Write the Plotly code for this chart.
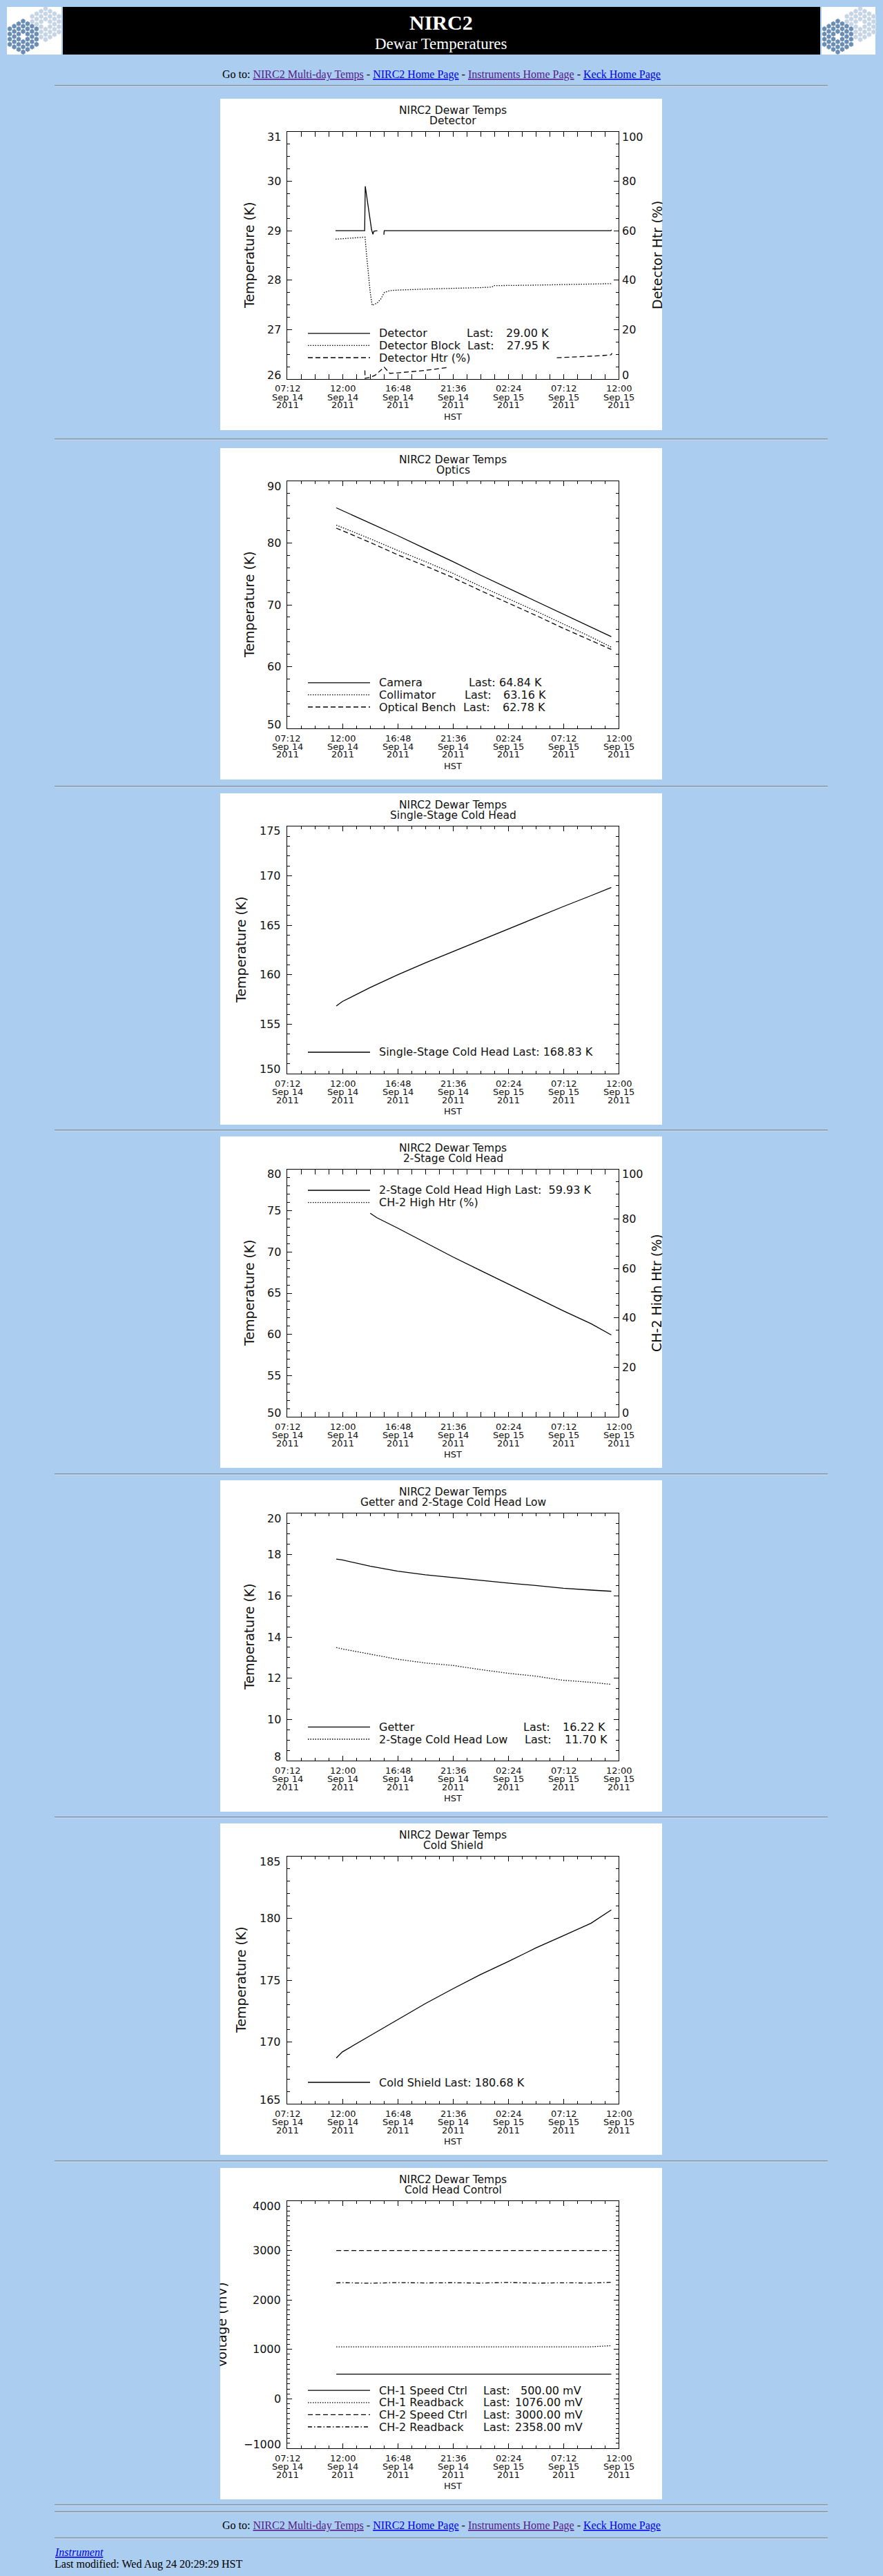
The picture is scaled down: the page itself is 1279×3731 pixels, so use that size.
import plotly.graph_objects as go

W, H = 1279, 3731
PAGE_BG = "#abcdef"
IDL = "DejaVu Sans"
SERIF = "Liberation Serif"
INK = "#111111"

# ---------------- data ----------------
x_ticks = ["2011-09-14 07:12", "2011-09-14 12:00", "2011-09-14 16:48", "2011-09-14 21:36",
           "2011-09-15 02:24", "2011-09-15 07:12", "2011-09-15 12:00"]
x_tick_clock = ["07:12", "12:00", "16:48", "21:36", "02:24", "07:12", "12:00"]
x_tick_day = ["Sep 14", "Sep 14", "Sep 14", "Sep 14", "Sep 15", "Sep 15", "Sep 15"]
x_tick_year = ["2011", "2011", "2011", "2011", "2011", "2011", "2011"]

grid_times = ["2011-09-14 11:28", "2011-09-14 12:00", "2011-09-14 14:24", "2011-09-14 16:48",
              "2011-09-14 19:12", "2011-09-14 21:36", "2011-09-15 00:00", "2011-09-15 02:24",
              "2011-09-15 04:48", "2011-09-15 07:12", "2011-09-15 09:36", "2011-09-15 11:22"]

# Detector panel
detector_times = ["2011-09-14 11:24", "2011-09-14 13:56", "2011-09-14 13:59", "2011-09-14 14:10",
                  "2011-09-14 14:21", "2011-09-14 14:32", "2011-09-14 14:39", "2011-09-14 14:44",
                  "2011-09-14 15:02", "2011-09-14 15:20", "2011-09-14 15:36", "2011-09-14 15:38",
                  "2011-09-15 11:20", "2011-09-15 11:23"]
detector_vals = [29.00, 29.00, 29.90, 29.62, 29.32, 29.02, 28.93, 28.99, 29.00, None, 28.92, 29.00,
                 29.00, 29.02]
block_times = ["2011-09-14 11:24", "2011-09-14 13:58", "2011-09-14 14:05", "2011-09-14 14:14",
               "2011-09-14 14:25", "2011-09-14 14:35", "2011-09-14 15:02", "2011-09-14 15:20",
               "2011-09-14 15:38", "2011-09-14 16:08", "2011-09-14 16:48", "2011-09-14 19:12",
               "2011-09-14 21:36", "2011-09-15 00:00", "2011-09-15 01:00", "2011-09-15 01:10",
               "2011-09-15 04:48", "2011-09-15 07:12", "2011-09-15 09:36", "2011-09-15 11:20",
               "2011-09-15 11:23"]
block_vals = [28.83, 28.87, 28.55, 28.17, 27.75, 27.49, 27.54, 27.62, 27.75, 27.79, 27.80, 27.82,
              27.83, 27.85, 27.86, 27.89, 27.90, 27.91, 27.92, 27.93, 27.95]
det_htr_times = ["2011-09-14 13:57", "2011-09-14 13:58", "2011-09-14 14:20", "2011-09-14 14:50",
                 "2011-09-14 15:38", "2011-09-14 16:07", "2011-09-14 16:48", "2011-09-14 18:00",
                 "2011-09-14 19:12", "2011-09-14 20:30", "2011-09-14 21:17", "2011-09-15 02:00",
                 "2011-09-15 06:38", "2011-09-15 08:00", "2011-09-15 09:36", "2011-09-15 10:38",
                 "2011-09-15 11:20", "2011-09-15 11:26"]
det_htr_vals = [3.5, 0.3, 0.6, 1.5, 4.8, 2.3, 2.5, 3.0, 3.5, 4.3, 4.8, None,
                8.6, 8.9, 9.2, 9.5, 9.8, 10.4]

# Optics panel
camera = [85.70, 85.25, 83.30, 81.20, 79.10, 77.00, 74.80, 72.70, 70.60, 68.50, 66.40, 64.84]
collimator = [82.90, 82.50, 80.70, 78.80, 77.00, 75.10, 73.00, 71.00, 69.00, 66.90, 64.80, 63.16]
optical_bench = [82.40, 82.00, 80.10, 78.10, 76.30, 74.40, 72.30, 70.30, 68.30, 66.20, 64.20, 62.78]

# Single-stage cold head
single_stage = [156.85, 157.30, 158.70, 160.00, 161.20, 162.35, 163.50, 164.65, 165.80, 166.90,
                168.00, 168.83]

# 2-stage cold head
ch2_high_times = ["2011-09-14 14:25", "2011-09-14 15:00", "2011-09-14 16:48", "2011-09-14 19:12",
                  "2011-09-14 21:36", "2011-09-15 00:00", "2011-09-15 02:24", "2011-09-15 04:48",
                  "2011-09-15 07:12", "2011-09-15 09:36", "2011-09-15 11:22"]
ch2_high = [74.70, 74.15, 72.90, 71.15, 69.40, 67.75, 66.10, 64.50, 62.85, 61.30, 59.93]
ch2_htr_times = []
ch2_htr = []

# Getter and 2-stage low
getter = [17.78, 17.74, 17.44, 17.20, 17.02, 16.88, 16.74, 16.62, 16.50, 16.37, 16.28, 16.22]
ch2_low = [13.49, 13.42, 13.17, 12.92, 12.74, 12.62, 12.42, 12.24, 12.10, 11.90, 11.80, 11.70]

# Cold shield
cold_shield = [168.70, 169.20, 170.50, 171.80, 173.10, 174.30, 175.45, 176.50, 177.60, 178.60,
               179.60, 180.68]

# Cold head control (mV)
ch1_speed = [500, 500, 500, 500, 500, 500, 500, 500, 500, 500, 500, 500]
ch1_readback = [1050, 1050, 1052, 1048, 1050, 1052, 1050, 1048, 1050, 1046, 1052, 1076]
ch2_speed = [3000, 3000, 3000, 3000, 3000, 3000, 3000, 3000, 3000, 3000, 3000, 3000]
ch2_readback = [2345, 2350, 2338, 2352, 2344, 2349, 2341, 2355, 2340, 2348, 2343, 2358]

# ---------------- page geometry (pixels) ----------------
PL, PR, PH = 416, 896, 358
plot_tops = [191, 697, 1197, 1694, 2192, 2689, 3188]
BOX_L, BOX_R = 319, 959

DASH = {"solid": "solid", "dot": "1.5px,2px", "dash": "7px,4px", "dashdot": "6px,3px,1.5px,3px"}


def fx(x):
    return x / W


def fy(y):
    return 1 - y / H


panels = [
    dict(sub="Detector", yr=[26, 31], dy=1, my=0.25, ytitle="Temperature (K)", ytx=361,
         right=dict(yr=[0, 100], dy=20, my=5, title="Detector Htr (%)", tx=952),
         series=[(detector_times, detector_vals, "solid", False),
                 (block_times, block_vals, "dot", False),
                 (det_htr_times, det_htr_vals, "dash", True)],
         legend="bottom",
         rows=[("solid", "Detector", 675, "29.00 K", 732),
               ("dot", "Detector Block", 676, "27.95 K", 733),
               ("dash", "Detector Htr (%)", None, None, None)]),
    dict(sub="Optics", yr=[50, 90], dy=10, my=2, ytitle="Temperature (K)", ytx=361, right=None,
         series=[(grid_times, camera, "solid", False),
                 (grid_times, collimator, "dot", False),
                 (grid_times, optical_bench, "dash", False)],
         legend="bottom",
         rows=[("solid", "Camera", 678, "64.84 K", 722),
               ("dot", "Collimator", 672, "63.16 K", 728),
               ("dash", "Optical Bench", 670, "62.78 K", 727)]),
    dict(sub="Single-Stage Cold Head", yr=[150, 175], dy=5, my=1, ytitle="Temperature (K)",
         ytx=349, right=None,
         series=[(grid_times, single_stage, "solid", False)],
         legend="bottom",
         rows=[("solid", "Single-Stage Cold Head Last: 168.83 K", None, None, None)]),
    dict(sub="2-Stage Cold Head", yr=[50, 80], dy=5, my=1, ytitle="Temperature (K)", ytx=361,
         right=dict(yr=[0, 100], dy=20, my=5, title="CH-2 High Htr (%)", tx=951),
         series=[(ch2_high_times, ch2_high, "solid", False),
                 (ch2_htr_times, ch2_htr, "dot", True)],
         legend="top",
         rows=[("solid", "2-Stage Cold Head High Last:\u00a0\u00a059.93 K", None, None, None),
               ("dot", "CH-2 High Htr (%)", None, None, None)]),
    dict(sub="Getter and 2-Stage Cold Head Low", yr=[8, 20], dy=2, my=0.5,
         ytitle="Temperature (K)", ytx=361, right=None,
         series=[(grid_times, getter, "solid", False),
                 (grid_times, ch2_low, "dot", False)],
         legend="bottom",
         rows=[("solid", "Getter", 757, "16.22 K", 814),
               ("dot", "2-Stage Cold Head Low", 759, "11.70 K", 817)]),
    dict(sub="Cold Shield", yr=[165, 185], dy=5, my=1, ytitle="Temperature (K)", ytx=349,
         right=None,
         series=[(grid_times, cold_shield, "solid", False)],
         legend="bottom",
         rows=[("solid", "Cold Shield Last: 180.68 K", None, None, None)]),
    dict(sub="Cold Head Control", yr=[-1000, 4000], dy=1000, my=100, ytitle="Voltage (mV)",
         ytx=321, right=None,
         series=[(grid_times, ch1_speed, "solid", False),
                 (grid_times, ch1_readback, "dot", False),
                 (grid_times, ch2_speed, "dash", False),
                 (grid_times, ch2_readback, "dashdot", False)],
         legend="bottom",
         rows=[("solid", "CH-1 Speed Ctrl", 699, "500.00 mV", 753),
               ("dot", "CH-1 Readback", 699, "1076.00 mV", 745),
               ("dash", "CH-2 Speed Ctrl", 699, "3000.00 mV", 745),
               ("dashdot", "CH-2 Readback", 699, "2358.00 mV", 745)]),
]

fig = go.Figure()
shapes = []
annotations = []
covers = []
layout_axes = {}


def ann(text, x, y, size, xanchor="center", yanchor="middle", family=IDL, color=INK,
        xref="paper", yref="paper", **kw):
    if xref == "paper":
        x = fx(x)
    if yref == "paper":
        y = fy(y)
    annotations.append(dict(text=text, x=x, y=y, xref=xref, yref=yref, xanchor=xanchor,
                            yanchor=yanchor, showarrow=False, borderpad=0,
                            font=dict(family=family, size=size, color=color), **kw))


def hline(x0, x1, y, color, width=1, dash="solid", layer="above"):
    shapes.append(dict(type="line", xref="paper", yref="paper", x0=fx(x0), x1=fx(x1),
                       y0=fy(y), y1=fy(y), layer=layer,
                       line=dict(color=color, width=width, dash=dash)))


def rect(x0, y0, x1, y1, fill):
    shapes.append(dict(type="rect", xref="paper", yref="paper", x0=fx(x0), x1=fx(x1),
                       y0=fy(y1), y1=fy(y0), fillcolor=fill, line=dict(width=0), layer="below"))


def tick_labels(yr, dy):
    n = int(round((yr[1] - yr[0]) / dy))
    vals = [yr[0] + i * dy for i in range(n + 1)]
    return [(v, f"{v:g}".replace("-", "\u2212")) for v in vals]


def value_axis(yr, dy, my, dom, anchor, mirror):
    ax = dict(range=yr, anchor=anchor, tickmode="linear", tick0=yr[0], dtick=dy,
              ticks="inside", ticklen=7, tickwidth=1, tickcolor="black",
              showticklabels=False, showline=True, linecolor="black", linewidth=1,
              mirror=mirror, showgrid=False, zeroline=False, fixedrange=True,
              minor=dict(ticks="inside", ticklen=4, tickwidth=1, tickcolor="black",
                         dtick=my, tick0=yr[0], showgrid=False))
    if dom is not None:
        ax["domain"] = dom
    return ax


right_ids = iter([10, 11])

for k, p in enumerate(panels, start=1):
    top = plot_tops[k - 1]
    bot = top + PH
    ydom = [fy(bot), fy(top)]
    rect(BOX_L, top - 48, BOX_R, top + 432, "white")

    layout_axes[f"xaxis{k}"] = dict(
        domain=[fx(PL), fx(PR)], anchor=f"y{k}", type="date",
        range=[x_ticks[0], x_ticks[-1]], tickmode="linear", tick0=x_ticks[0],
        dtick=4.8 * 3600 * 1000, ticks="inside", ticklen=7, tickwidth=1, tickcolor="black",
        showticklabels=False, showline=True, linecolor="black", linewidth=1,
        mirror="allticks", showgrid=False, zeroline=False, fixedrange=True,
        minor=dict(ticks="inside", ticklen=4, tickwidth=1, tickcolor="black",
                   dtick=72 * 60 * 1000, tick0=x_ticks[0], showgrid=False))
    layout_axes[f"yaxis{k}"] = value_axis(p["yr"], p["dy"], p["my"], ydom, f"x{k}",
                                         False if p["right"] else "allticks")

    rid = None
    if p["right"]:
        rid = next(right_ids)
        r = p["right"]
        ax = value_axis(r["yr"], r["dy"], r["my"], None, f"x{k}", False)
        ax.update(overlaying=f"y{k}", side="right")
        layout_axes[f"yaxis{rid}"] = ax

    for times, vals, dash, on_right in p["series"]:
        fig.add_trace(go.Scatter(x=times, y=vals, mode="lines", xaxis=f"x{k}",
                                 yaxis=f"y{rid}" if on_right else f"y{k}",
                                 connectgaps=False,
                                 line=dict(color="black", width=1.3, dash=DASH[dash])))

    # titles
    ann("NIRC2 Dewar Temps", (PL + PR) / 2, top - 31, 15.5)
    ann(p["sub"], (PL + PR) / 2, top - 16.5, 15.5)
    ann(p["ytitle"], p["ytx"], top + PH / 2, 19, textangle=-90)
    if p["right"]:
        ann(p["right"]["title"], p["right"]["tx"], top + PH / 2, 19, textangle=-90)
        covers.append(dict(text=" ", x=fx(BOX_R), y=fy(top + PH / 2), xref="paper",
                           yref="paper", xanchor="left", yanchor="middle", showarrow=False,
                           width=40, height=240, bgcolor=PAGE_BG, borderpad=0))
    if p["ytx"] < 340:
        covers.append(dict(text=" ", x=fx(BOX_L), y=fy(top + PH / 2), xref="paper",
                           yref="paper", xanchor="right", yanchor="middle", showarrow=False,
                           width=40, height=240, bgcolor=PAGE_BG, borderpad=0))

    # value tick labels (end labels sit just inside the frame, IDL style)
    labs = tick_labels(p["yr"], p["dy"])
    for i, (v, t) in enumerate(labs):
        shift = -7 if i == len(labs) - 1 else (6 if i == 0 else 0)
        ann(t, PL - 8, v, 16, xanchor="right", yref=f"y{k}", yshift=shift)
    if p["right"]:
        labs = tick_labels(p["right"]["yr"], p["right"]["dy"])
        for i, (v, t) in enumerate(labs):
            shift = -7 if i == len(labs) - 1 else (6 if i == 0 else 0)
            ann(t, PR + 4, v, 16, xanchor="left", yref=f"y{rid}", yshift=shift)

    # time tick labels
    for tv, c, d, yv in zip(x_ticks, x_tick_clock, x_tick_day, x_tick_year):
        ann(c, tv, bot + 14, 13, xref=f"x{k}")
        ann(d, tv, bot + 26.5, 13, xref=f"x{k}")
        ann(yv, tv, bot + 38, 13, xref=f"x{k}")
    ann("HST", (PL + PR) / 2, bot + 54, 13)

    # legend block
    n = len(p["rows"])
    for i, (dash, name, lx, val, vx) in enumerate(p["rows"]):
        if p["legend"] == "top":
            ry = top + 30 + 17.6 * i
        else:
            ry = bot - 31 - 17.6 * (n - 1 - i)
        hline(PL + 30, PL + 120, ry, "black", 1.3, DASH[dash])
        ann(name.replace(" ", "\u00a0"), PL + 132, ry, 16, xanchor="left")
        if lx is not None:
            ann("Last:", lx, ry, 16, xanchor="left")
            ann(val.replace(" ", "\u00a0"), vx, ry, 16, xanchor="left")

# ---------------- page chrome ----------------
rect(91, 10, 1188, 79, "black")
rect(10, 10, 89, 79, "white")
rect(1190, 10, 1268, 79, "white")
ann("<b>NIRC2</b>", 639, 33, 30, family=SERIF, color="white")
ann("Dewar Temperatures", 639, 63, 23, family=SERIF, color="white")

go_to = ("Go to: <span style='color:#551a8b'><u>NIRC2 Multi-day Temps</u></span> - "
         "<span style='color:#0000ee'><u>NIRC2 Home Page</u></span> - "
         "<span style='color:#551a8b'><u>Instruments Home Page</u></span> - "
         "<span style='color:#0000ee'><u>Keck Home Page</u></span>")
ann(go_to, 639, 108, 16, family=SERIF, color="black")
ann(go_to, 639, 3658, 16, family=SERIF, color="black")
ann("<i><u>Instrument</u></i>", 78, 3696, 16, xanchor="left", family=SERIF, color="#0000ee")
ann("Last modified: Wed Aug 24 20:29:29 HST", 78, 3714, 16, xanchor="left", family=SERIF,
    color="black")

for y in [124, 636, 1139, 1637, 2135, 2632, 3130, 3628, 3638, 3676]:
    hline(79, 1199, y, "#5b5b5b", 1)
    hline(79, 1199, y + 1, "#d4e2f2", 1)


# Keck hexagonal mirror logos (decoration)
def hex_cells(cx, cy, s=4.3):
    xs, ys = [], []
    for q in range(-3, 4):
        for r in range(-3, 4):
            if max(abs(q), abs(r), abs(q + r)) <= 3 and (q, r) != (0, 0):
                xs.append(cx + 1.5 * s * q)
                ys.append(cy + 3 ** 0.5 * s * (r + q / 2))
    return xs, ys


for ax_id, x0 in [(8, 10), (9, 1190)]:
    layout_axes[f"xaxis{ax_id}"] = dict(domain=[fx(x0), fx(x0 + 79)], range=[x0, x0 + 79],
                                        anchor=f"y{ax_id}", visible=False, fixedrange=True)
    layout_axes[f"yaxis{ax_id}"] = dict(domain=[fy(79), fy(10)], range=[79, 10],
                                        anchor=f"x{ax_id}", visible=False, fixedrange=True)
    for (cx, cy), col in [((x0 + 56, 35), "#c6d5e5"), ((x0 + 23.5, 53), "#6a8db4")]:
        hx, hy = hex_cells(cx, cy)
        fig.add_trace(go.Scatter(x=hx, y=hy, mode="markers", xaxis=f"x{ax_id}",
                                 yaxis=f"y{ax_id}",
                                 marker=dict(symbol="hexagon", size=8, color=col,
                                             line=dict(color="white", width=0.6))))

fig.update_layout(
    width=W, height=H, margin=dict(l=0, r=0, t=0, b=0),
    paper_bgcolor=PAGE_BG, plot_bgcolor="rgba(0,0,0,0)",
    showlegend=False, hovermode=False,
    shapes=shapes, annotations=annotations + covers,
    **layout_axes,
)

# page body has a default 8px margin; drop it so the figure fills the window
fig.write_html("out.html",
               config=dict(displayModeBar=False, staticPlot=True),
               post_script="document.body.style.margin='0';"
                           "document.body.style.background='" + PAGE_BG + "';")
